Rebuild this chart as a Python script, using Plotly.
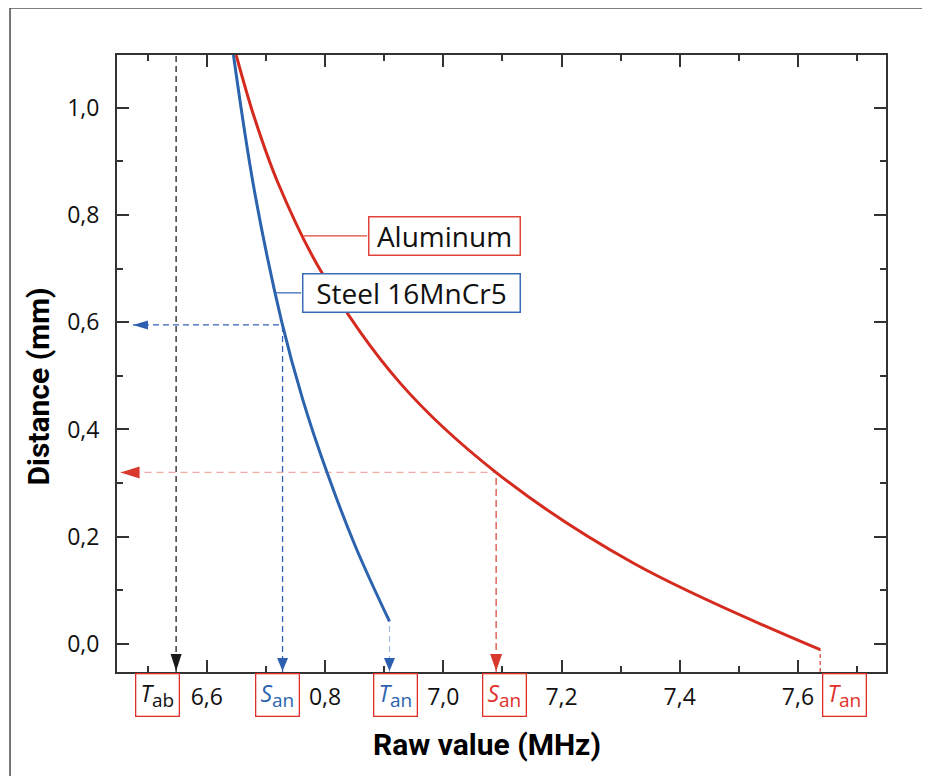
import numpy as np
import plotly.graph_objects as go

# ---------------- data ----------------
steel_x = [6.6450, 6.6802, 6.7267, 6.7624, 6.8037, 6.8523, 6.9090]
steel_y = [1.0982, 0.8466, 0.6006, 0.4553, 0.3187, 0.1795, 0.0421]

al_x = [6.6496, 6.6800, 6.7206, 6.7917, 6.9271, 7.0907, 7.3213, 7.6377]
al_y = [1.0982, 0.9830, 0.8591, 0.6978, 0.4864, 0.3187, 0.1510, -0.0106]

x_tickvals = [6.6, 6.8, 7.0, 7.2, 7.4, 7.6]
x_ticktext = ["6,6", "0,8", "7,0", "7,2", "7,4", "7,6"]
x_minor = [6.5, 6.7, 6.9, 7.1, 7.3, 7.5, 7.7]
y_tickvals = [0.0, 0.2, 0.4, 0.6, 0.8, 1.0]
y_ticktext = ["0,0", "0,2", "0,4", "0,6", "0,8", "1,0"]
y_minor = [0.1, 0.3, 0.5, 0.7, 0.9]

t_ab_x = 6.548          # threshold (black)
steel_level = 0.595     # read-off distance for steel
al_level = 0.32         # read-off distance for aluminum

series_names = ["Aluminum", "Steel 16MnCr5"]
marker_main = ["T", "S", "T", "S", "T"]
marker_sub = ["ab", "an", "an", "an", "an"]
marker_label_x = [6.517, 6.720, 6.919, 7.104, 7.678]

# ---------------- styles ----------------
BLUE = "#2c63ae"
RED = "#d52a1e"
XR = [6.448, 7.749]
YR = [-0.0522, 1.0982]


def x_on(xs, ys, level):
    return float(np.interp(level, ys[::-1], xs[::-1]))


steel_at = x_on(steel_x, steel_y, steel_level)
al_at = x_on(al_x, al_y, al_level)

fig = go.Figure()
fig.add_trace(go.Scatter(x=al_x, y=al_y, mode="lines", line=dict(color=RED, width=3, shape="spline", smoothing=1),
                         showlegend=False, name=series_names[0]))
fig.add_trace(go.Scatter(x=steel_x, y=steel_y, mode="lines", line=dict(color=BLUE, width=3, shape="spline", smoothing=1),
                         showlegend=False, name=series_names[1]))

shapes = []


def dline(x0, y0, x1, y1, color, width, dash, yref="y"):
    shapes.append(dict(type="line", xref="x", yref=yref, x0=x0, y0=y0, x1=x1, y1=y1,
                       line=dict(color=color, width=width, dash=dash), layer="below"))


def arrow_down(x, color, w, h):
    shapes.append(dict(type="path", xref="x", yref="y", xsizemode="pixel", ysizemode="pixel",
                       xanchor=x, yanchor=YR[0], line=dict(width=0), fillcolor=color,
                       path=f"M{-w/2},{h} L{w/2},{h} L0,1 Z"))


def arrow_left(x, y, color, w, h):
    shapes.append(dict(type="path", xref="x", yref="y", xsizemode="pixel", ysizemode="pixel",
                       xanchor=x, yanchor=y, line=dict(width=0), fillcolor=color,
                       path=f"M0,0 L{w},{h/2} L{w},{-h/2} Z"))


# black T_ab line
dline(t_ab_x, YR[0], t_ab_x, YR[1], "#222222", 1.3, "6px,4px")
arrow_down(t_ab_x, "#1a1a1a", 11, 18)

# steel S_an
dline(6.475, steel_level, steel_at, steel_level, "#3560b5", 1.3, "6px,4px")
dline(steel_at, YR[0], steel_at, steel_level, "#3560b5", 1.3, "6px,4px")
arrow_left(6.475, steel_level, "#2c5fb0", 15, 9)
arrow_down(steel_at, "#2c5fb0", 11, 14)

# steel T_an
dline(steel_x[-1], YR[0], steel_x[-1], steel_y[-1], "#9db6e0", 1.1, "6px,4px")
arrow_down(steel_x[-1], "#2c5fb0", 11, 14)

# aluminum S_an
dline(6.454, al_level, al_at, al_level, "#f2a8a4", 1.2, "7px,5px")
dline(al_at, YR[0], al_at, al_level, "#e04c42", 1.3, "7px,4px")
arrow_left(6.454, al_level, "#d8392c", 19, 12)
arrow_down(al_at, "#d8392c", 12, 18)

# aluminum T_an
dline(al_x[-1], YR[0], al_x[-1], al_y[-1], "#e04c42", 1.3, "4px,3px")

# connectors to labels
al_box = (7.0015, 0.761)
st_box = (6.9457, 0.6547)
shapes.append(dict(type="line", xref="x", yref="y", x0=x_on(al_x, al_y, al_box[1]), y0=al_box[1],
                   x1=6.871, y1=al_box[1], line=dict(color="#e0443a", width=1.3)))
shapes.append(dict(type="line", xref="x", yref="y", x0=x_on(steel_x, steel_y, st_box[1]), y0=st_box[1],
                   x1=6.7596, y1=st_box[1], line=dict(color="#3a6db5", width=1.3)))

# outer frame (top and left edges only are visible)
shapes.append(dict(type="line", xref="paper", yref="paper", x0=-0.1391, y0=1.0762, x1=1.2, y1=1.0762,
                   line=dict(color="#555555", width=1.6), layer="below"))
shapes.append(dict(type="line", xref="paper", yref="paper", x0=-0.1391, y0=1.0762, x1=-0.1391, y1=-0.3,
                   line=dict(color="#555555", width=1.6), layer="below"))

annotations = []
annotations.append(dict(x=al_box[0], y=al_box[1], xref="x", yref="y", text=series_names[0], showarrow=False,
                        font=dict(family="Open Sans", size=28, color="#111"), bgcolor="white",
                        bordercolor="#e0443a", borderwidth=1.5, borderpad=0, width=150, height=37))
annotations.append(dict(x=st_box[0], y=st_box[1], xref="x", yref="y", text=series_names[1], showarrow=False,
                        font=dict(family="Open Sans", size=28, color="#111"), bgcolor="white",
                        bordercolor="#3a6db5", borderwidth=1.5, borderpad=0, width=216, height=37))

label_colors = ["#111111", BLUE, BLUE, "#e0302a", "#e0302a"]
for m, s, xx, cc in zip(marker_main, marker_sub, marker_label_x, label_colors):
    txt = f"<i>{m}</i><sub><span style='font-size:19px'>{s}</span></sub>"
    annotations.append(dict(x=xx, y=-0.038, xref="x", yref="paper", text=txt, showarrow=False,
                            font=dict(family="Open Sans", size=23, color=cc),
                            bordercolor="#e0302a", borderwidth=1.3, borderpad=1, width=40, height=39,
                            xanchor="center", yanchor="middle"))

annotations.append(dict(x=0.4808, y=-0.1183, xref="paper", yref="paper", text="<b>Raw value (MHz)</b>",
                        showarrow=False, font=dict(family="Roboto", size=30, color="#000"),
                        xanchor="center", yanchor="middle"))
annotations.append(dict(x=-0.1021, y=0.4635, xref="paper", yref="paper", text="<b>Distance (mm)</b>",
                        showarrow=False, textangle=-90, font=dict(family="Roboto", size=30, color="#000"),
                        xanchor="center", yanchor="middle"))

axis_common = dict(showline=True, linewidth=2, linecolor="#333", mirror="ticks", ticks="inside",
                   ticklen=12, tickwidth=2, tickcolor="#333", showgrid=False, zeroline=False,
                   tickfont=dict(family="Open Sans", size=23, color="#111"))

# the page body adds an 8px offset, so the figure is 8px smaller and margins 8px less
fig.update_layout(
    width=922, height=768,
    margin=dict(l=109, r=44, t=47, b=104),
    paper_bgcolor="white", plot_bgcolor="white",
    shapes=shapes, annotations=annotations,
    xaxis=dict(range=XR, tickmode="array", tickvals=x_tickvals, ticktext=x_ticktext,
               minor=dict(tickmode="array", tickvals=x_minor, ticks="inside", ticklen=6, tickwidth=2,
                          tickcolor="#333"),
               ticklabelstandoff=3, **axis_common),
    yaxis=dict(range=YR, tickmode="array", tickvals=y_tickvals, ticktext=y_ticktext,
               minor=dict(tickmode="array", tickvals=y_minor, ticks="inside", ticklen=6, tickwidth=2,
                          tickcolor="#333"),
               ticklabelstandoff=11, **axis_common),
)

fig.write_html("out.html", config={"displayModeBar": False},
               post_script="document.body.style.overflow='hidden';")
